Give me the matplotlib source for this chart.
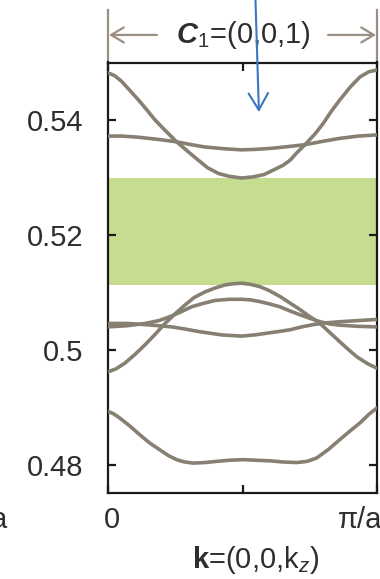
import matplotlib
matplotlib.use("Agg")
import matplotlib.pyplot as plt
from matplotlib.transforms import ScaledTranslation

plt.rcParams['font.family'] = ['Liberation Sans', 'DejaVu Sans']
plt.rcParams['mathtext.fontset'] = 'custom'
plt.rcParams['mathtext.rm'] = 'Liberation Sans'
plt.rcParams['mathtext.it'] = 'Liberation Sans:italic'
plt.rcParams['mathtext.bf'] = 'Liberation Sans:bold'
plt.rcParams['mathtext.bfit'] = 'Liberation Sans:bold:italic'

# bands along k = (0,0,kz), kz in units of pi/a
kz_a = [0.0, 0.025, 0.051, 0.08, 0.113, 0.14, 0.175, 0.21, 0.255, 0.30, 0.336, 0.37, 0.410, 0.45,
        0.497, 0.540, 0.58, 0.615, 0.65, 0.677, 0.70, 0.732, 0.77, 0.800, 0.83, 0.862, 0.90, 0.937, 0.97, 1.0]
band_a = [0.5482, 0.5477, 0.5467, 0.5452, 0.5435, 0.5420, 0.5400, 0.5383, 0.5362, 0.5344, 0.5330, 0.5317,
          0.5307, 0.5302, 0.5299, 0.5301, 0.5305, 0.5313, 0.5321, 0.5330, 0.5342, 0.5357, 0.5376, 0.5394,
          0.5415, 0.5435, 0.5457, 0.5475, 0.5484, 0.5487]

kz_b = [0.0, 0.05, 0.113, 0.19, 0.255, 0.31, 0.360, 0.43, 0.497, 0.555, 0.615, 0.675, 0.732, 0.80, 0.862, 0.93, 1.0]
band_b = [0.5372, 0.5372, 0.5370, 0.5366, 0.5362, 0.5357, 0.5353, 0.5350, 0.5348, 0.5349, 0.5351, 0.5354,
          0.5357, 0.5363, 0.5368, 0.5372, 0.5374]

kz_c = [0.0, 0.03, 0.063, 0.10, 0.138, 0.175, 0.212, 0.25, 0.286, 0.32, 0.361, 0.40, 0.435, 0.465, 0.497,
        0.53, 0.565, 0.60, 0.639, 0.675, 0.714, 0.75, 0.788, 0.825, 0.862, 0.895, 0.925, 0.965, 1.0]
band_c = [0.4962, 0.4967, 0.4977, 0.4992, 0.5009, 0.5027, 0.5046, 0.5063, 0.5078, 0.5091, 0.5101, 0.5108,
          0.5113, 0.5115, 0.5116, 0.5114, 0.5110, 0.5103, 0.5093, 0.5082, 0.5070, 0.5058, 0.5046, 0.5030,
          0.5014, 0.5000, 0.4988, 0.4976, 0.4968]

kz_d = [0.0, 0.07, 0.138, 0.19, 0.237, 0.275, 0.311, 0.355, 0.398, 0.45, 0.497, 0.53, 0.565, 0.60, 0.639,
        0.675, 0.714, 0.75, 0.788, 0.825, 0.862, 0.93, 1.0]
band_d = [0.5040, 0.5042, 0.5046, 0.5051, 0.5059, 0.5067, 0.5075, 0.5081, 0.5086, 0.5088, 0.5088, 0.5087,
          0.5084, 0.5080, 0.5075, 0.5068, 0.5061, 0.5055, 0.5049, 0.5045, 0.5043, 0.5041, 0.5040]

kz_e = [0.0, 0.07, 0.138, 0.19, 0.237, 0.29, 0.336, 0.38, 0.423, 0.46, 0.497, 0.545, 0.590, 0.635, 0.677,
        0.72, 0.763, 0.81, 0.862, 0.93, 1.0]
band_e = [0.5046, 0.5046, 0.5044, 0.5042, 0.5040, 0.5036, 0.5032, 0.5029, 0.5026, 0.5025, 0.5024, 0.5026,
          0.5029, 0.5032, 0.5035, 0.5040, 0.5044, 0.5047, 0.5049, 0.5051, 0.5053]

kz_f = [0.0, 0.02, 0.045, 0.08, 0.119, 0.155, 0.193, 0.225, 0.255, 0.285, 0.317, 0.36, 0.404, 0.45, 0.503,
        0.55, 0.602, 0.65, 0.701, 0.74, 0.776, 0.82, 0.862, 0.90, 0.937, 0.97, 1.0]
band_f = [0.4893, 0.4889, 0.4881, 0.4868, 0.4852, 0.4838, 0.4826, 0.4816, 0.4809, 0.4805, 0.4803, 0.4804,
          0.4806, 0.4808, 0.4809, 0.4808, 0.4807, 0.4805, 0.4804, 0.4806, 0.4812, 0.4827, 0.4844, 0.4859,
          0.4873, 0.4888, 0.4899]

# complete band gap
gap_bottom, gap_top = 0.5113, 0.5299

yticks = [0.48, 0.50, 0.52, 0.54]
ytick_labels = ['0.48', '0.5', '0.52', '0.54']
xticks = [0.0, 0.5, 1.0]
xtick_labels = ['0', '', 'π/a']

band_color = '#878072'
gap_color = '#c6dc8e'
dim_color = '#9a8f82'
text_color = '#2e2e2e'

fig = plt.figure(figsize=(3.8, 5.79), dpi=100)
ax = fig.add_axes([108 / 380, 1 - 493 / 579, 269 / 380, 430.5 / 579])

ax.axhspan(gap_bottom, gap_top, color=gap_color, lw=0, zorder=1)

for kz, band in [(kz_a, band_a), (kz_b, band_b), (kz_c, band_c),
                 (kz_d, band_d), (kz_e, band_e), (kz_f, band_f)]:
    ax.plot(kz, band, color=band_color, lw=2.6, solid_joinstyle='round',
            solid_capstyle='round', zorder=3)

ax.set_xlim(0, 1)
ax.set_ylim(0.4751, 0.5500)

for s in ax.spines.values():
    s.set_linewidth(1.6)
    s.set_color('#1a1a1a')

ax.set_yticks(yticks)
ax.set_yticklabels(ytick_labels)
ax.set_xticks(xticks)
ax.set_xticklabels(xtick_labels)
ax.tick_params(axis='y', direction='in', left=True, right=True, length=6, width=1.6,
               labelsize=21, pad=18, labelcolor=text_color, color='#1a1a1a')
ax.tick_params(axis='x', direction='in', top=True, bottom=True, length=6, width=1.6,
               labelsize=21, pad=9, labelcolor=text_color, color='#1a1a1a')

xl = ax.get_xticklabels()
xl[0].set_transform(xl[0].get_transform() + ScaledTranslation(4 / 100, 0, fig.dpi_scale_trans))
xl[2].set_horizontalalignment('right')
xl[2].set_transform(xl[2].get_transform() + ScaledTranslation(5 / 100, 0, fig.dpi_scale_trans))

# period marker above the axes
for xe in (0.0, 1.0):
    ax.plot([xe, xe], [1.0, 1.122], transform=ax.transAxes, color=dim_color,
            lw=1.6, clip_on=False, zorder=2)
ax.annotate('', xy=(0.004, 1.064), xytext=(0.182, 1.064), xycoords='axes fraction',
            arrowprops=dict(arrowstyle='->,head_length=0.5,head_width=0.3', color=dim_color,
                            lw=1.6, mutation_scale=18, shrinkA=0, shrinkB=0),
            annotation_clip=False)
ax.annotate('', xy=(0.996, 1.064), xytext=(0.818, 1.064), xycoords='axes fraction',
            arrowprops=dict(arrowstyle='->,head_length=0.5,head_width=0.3', color=dim_color,
                            lw=1.6, mutation_scale=18, shrinkA=0, shrinkB=0),
            annotation_clip=False)
ax.text(0.502, 1.064, r'$\mathbfit{C}_{\mathit{1}}$=(0,0,1)', transform=ax.transAxes,
        ha='center', va='center', fontsize=21, color=text_color)

ax.annotate('', xy=(0.561, 0.885), xytext=(0.548, 1.15), xycoords='axes fraction',
            arrowprops=dict(arrowstyle='->,head_length=0.6,head_width=0.35', color='#3b76c2',
                            lw=1.5, mutation_scale=20, shrinkA=0, shrinkB=0),
            annotation_clip=False)

fig.text(256 / 380, 1 - 560 / 579, r'$\mathbf{k}$=(0,0,k$_z$)', ha='center', va='center',
         fontsize=21, color=text_color)
fig.text(7 / 380, 1 - 520 / 579, 'a', ha='right', va='center', fontsize=21, color=text_color)

fig.savefig('out.png', dpi=100)
